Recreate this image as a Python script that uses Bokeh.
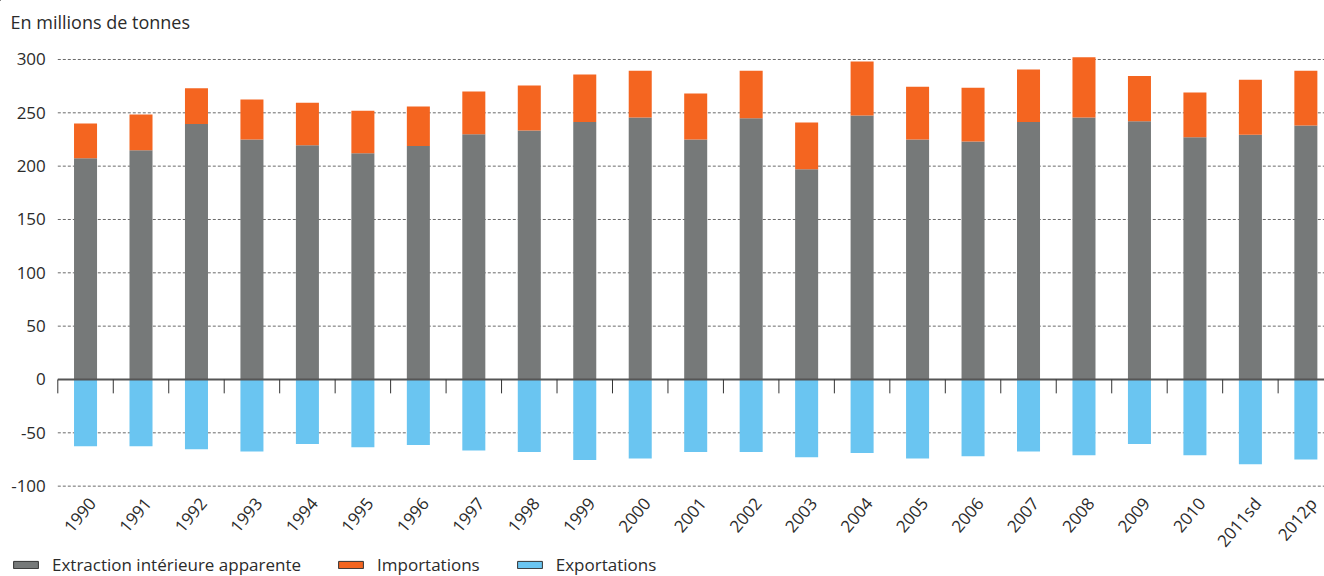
from bokeh.plotting import figure
from bokeh.models import Range1d, Legend, LegendItem, ColumnDataSource, Label
from bokeh.core.properties import value
from bokeh.embed import file_html
from bokeh.resources import INLINE

years = ["1990", "1991", "1992", "1993", "1994", "1995", "1996", "1997", "1998", "1999",
         "2000", "2001", "2002", "2003", "2004", "2005", "2006", "2007", "2008", "2009",
         "2010", "2011sd", "2012p"]
extraction = [207.5, 215, 239.5, 225, 219.5, 212, 219, 230, 233.5, 241.5, 245.5, 225, 245,
              197, 247.5, 225, 223, 241.5, 245.5, 242, 227, 229.5, 238]
imports = [32.5, 33.5, 33.5, 37.5, 40, 40, 37, 40, 42, 44.5, 44, 43, 44.5, 44, 50.5, 49.5,
           50.5, 49, 56.5, 42.5, 42, 51.5, 51.5]
exports = [62.5, 62.5, 65.5, 67.5, 60.5, 63.5, 61.5, 66.5, 68, 75.5, 74, 68, 68, 73, 69, 74,
           72, 67.5, 71, 60.5, 71, 79.5, 75]
y_ticks = [-100, -50, 0, 50, 100, 150, 200, 250, 300]
y_tick_labels = ["-100", "-50", "0", "50", "100", "150", "200", "250", "300"]
series = ["Extraction intérieure apparente", "Importations", "Exportations"]
title = "En millions de tonnes"

FONT = "Open Sans"
TXT = "#2b2b2b"
GRAY = "#767979"
ORANGE = "#f46520"
BLUE = "#6ac5f1"
GRID = "#6a6a6a"

n = len(years)
idx = list(range(n))
left_edge = -0.5
total = [e + i for e, i in zip(extraction, imports)]
neg_exp = [-x for x in exports]
src = ColumnDataSource(dict(x=idx, ext=extraction, tot=total, exp=neg_exp, zero=[0] * n))

W, H = 1324, 576
p = figure(width=W, height=H, output_backend="svg", toolbar_location=None,
           x_range=Range1d(-1.533, 22.336), y_range=Range1d(-184.7, 355.3),
           min_border=0, min_border_left=0, min_border_right=0, min_border_top=0,
           min_border_bottom=0, x_axis_type=None, y_axis_type=None)
p.outline_line_color = None
p.background_fill_color = "white"
p.border_fill_color = "white"

# title (screen units, y measured from the bottom of the canvas)
p.add_layout(Label(x=10, y=H - 21, x_units="screen", y_units="screen", text=title,
                   text_font=FONT, text_font_size="18px", text_color=TXT,
                   text_baseline="middle", text_align="left"))

# grid lines (dotted) starting at the plot's left edge
grid_vals = [t for t in y_ticks if t != 0]
gsrc = ColumnDataSource(dict(y=grid_vals, x0=[left_edge] * len(grid_vals), x1=[n] * len(grid_vals)))
p.segment(x0="x0", x1="x1", y0="y", y1="y", line_color=GRID, line_dash="3 2", line_width=1,
          source=gsrc)

# y tick labels
ysrc = ColumnDataSource(dict(y=y_ticks, t=y_tick_labels, x=[left_edge] * len(y_ticks)))
p.text(x="x", y="y", text="t", source=ysrc, x_offset=-12, text_align="right",
       text_baseline="middle", text_font=value(FONT), text_font_size="17px", text_color=TXT)

# bars
bw = 0.415
p.vbar(x="x", bottom="zero", top="ext", width=bw, fill_color=GRAY, line_color=None, source=src)
p.vbar(x="x", bottom="ext", top="tot", width=bw, fill_color=ORANGE, line_color=None, source=src)
p.vbar(x="x", bottom="exp", top="zero", width=bw, fill_color=BLUE, line_color=None, source=src)

# zero line and category separators
p.segment(x0=[left_edge], x1=[n], y0=[0], y1=[0], line_color="#555555", line_width=2)
tick_src = ColumnDataSource(dict(x=[i - 0.5 for i in idx], y0=[0] * n, y1=[-13] * n))
p.segment(x0="x", x1="x", y0="y0", y1="y1", line_color="#333333", line_width=1, source=tick_src)

# rotated category labels
lsrc = ColumnDataSource(dict(x=idx, y=[y_ticks[0]] * n, t=years))
p.text(x="x", y="y", text="t", source=lsrc, angle=0.873, x_offset=7, y_offset=14,
       text_align="right", text_baseline="middle", text_font=value(FONT),
       text_font_size="17px", text_color=TXT)

# legend (swatch renderers kept well outside the visible range)
colors = [GRAY, ORANGE, BLUE]
items = []
for name, c in zip(series, colors):
    r = p.vbar(x=[-50], bottom=[1000], top=[1001], width=0.4, fill_color=c,
               line_color="#333333", line_width=1)
    items.append(LegendItem(label=name, renderers=[r]))
legend = Legend(items=items, orientation="horizontal", location=(10, 0),
                glyph_width=31, glyph_height=9, label_standoff=11, spacing=34,
                padding=0, margin=0, border_line_color=None, background_fill_alpha=0,
                label_text_font=FONT, label_text_font_size="17px", label_text_color=TXT)
p.add_layout(legend)

open("out.html", "w").write(file_html(p, INLINE))
